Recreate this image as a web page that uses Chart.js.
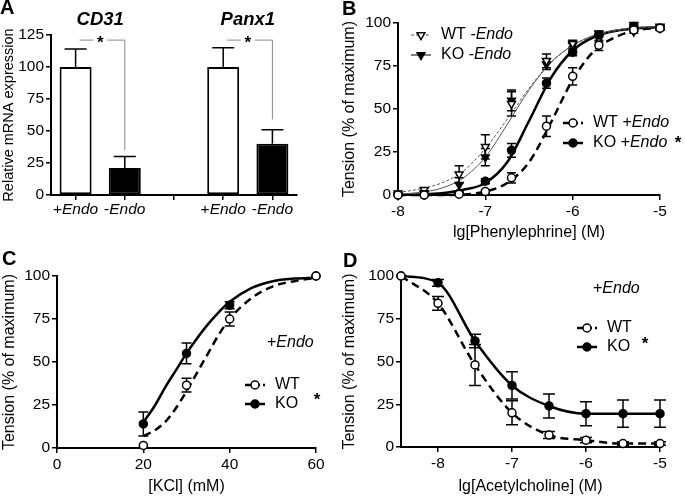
<!DOCTYPE html>
<html>
<head>
<meta charset="utf-8">
<script src="https://cdn.jsdelivr.net/npm/chart.js@4.4.1/dist/chart.umd.min.js"></script>
<style>
  body { margin: 0; background: #fff; }
  #wrap { position: relative; width: 685px; height: 496px; background: #fff; overflow: hidden; }
  canvas { position: absolute; }
</style>
</head>
<body>
<div id="wrap">
  <canvas id="cA" width="340" height="240" style="left:0;top:0;width:340px;height:240px"></canvas>
  <canvas id="cB" width="345" height="245" style="left:340px;top:0;width:345px;height:245px"></canvas>
  <canvas id="cC" width="340" height="256" style="left:0;top:240px;width:340px;height:256px"></canvas>
  <canvas id="cD" width="345" height="256" style="left:340px;top:240px;width:345px;height:256px"></canvas>
</div>
<script>
var FONT = 'Arial, "Liberation Sans", Helvetica, sans-serif';
Chart.defaults.font.family = FONT;
Chart.defaults.color = '#000';

// ---- A: relative mRNA expression
var aCategories = ['+Endo', '-Endo', '', '+Endo', '-Endo'];
var aValues = [100, 21, null, 100, 40];
var aErrors = [14, 9, 0, 15, 11];
var aGenes = ['CD31', 'Panx1'];
var aTicks = [0, 25, 50, 75, 100, 125];
var aBrackets = [[0, 1, 121, 35], [3, 4, 121, 59]]; // from, to, top, drop (data units)

// ---- B: phenylephrine
var bDoses = [-8, -7.7, -7.3, -7, -6.7, -6.3, -6, -5.7, -5.3, -5];
var bWtMinus = [1, 3, 12, 28, 53, 78, 88, 91, 95, 98];
var bWtMinusErr = [0, 1, 5, 7, 7, 4, 2, 2, 1, 1];
var bKoMinus = [0, 1, 6, 22, 55, 76, 87, 94, 99, 97];
var bKoMinusErr = [0, 1, 4, 5, 6, 3, 2, 1, 1, 1];
var bWtPlus = [0, 0, 0.5, 2, 10, 40, 69, 87, 96, 97];
var bWtPlusErr = [0, 0, 0, 1, 3, 6, 5, 3, 1, 1];
var bKoPlus = [0, 0, 1, 8, 26, 65, 83, 93, 98, 97];
var bKoPlusErr = [0, 0, 0.5, 1.5, 4, 3, 2, 1, 1, 1];
var bCurveX = [-8, -7.75, -7.5, -7.25, -7, -6.75, -6.5, -6.25, -6, -5.75, -5.5, -5.25, -5];
var bWtMinusFit = [1.5, 3.5, 7, 14, 27, 44, 62, 77, 87, 92.5, 95.5, 97, 98];
var bKoMinusFit = [0.5, 1.5, 4, 10, 22, 41, 61, 77, 87, 93, 96, 97.5, 98];
var bWtPlusFit = [0, 0, 0, 0.3, 2, 7, 19, 42, 67, 84, 92, 96, 97];
var bKoPlusFit = [0, 0.3, 1, 3, 7, 19, 43, 68, 84, 92, 95.5, 97, 97.5];
var bTicks = [-8, -7, -6, -5];

// ---- C: KCl
var cDoses = [20, 30, 40, 60];
var cWt = [1.5, 36.5, 75, 100];
var cWtErr = [0, 4, 4, 0];
var cKo = [14, 55, 83, 100];
var cKoErr = [7, 6, 2, 0];
var cCurveX = [20, 22.5, 25, 27.5, 30, 32.5, 35, 37.5, 40, 45, 50, 55, 60];
var cWtFit = [7, 10, 15, 23, 33, 44, 55, 66, 75, 87, 94, 97, 99];
var cKoFit = [15, 24, 35, 45, 55, 64, 72, 79, 85, 93, 97, 98.5, 99];
var cTicks = [0, 20, 40, 60];

// ---- D: acetylcholine
var dDoses = [-8.5, -8, -7.5, -7, -6.5, -6, -5.5, -5];
var dWt = [100, 84, 48, 20, 7, 4, 2, 2];
var dWtErr = [0, 4, 12, 7, 2, 1.5, 1, 1];
var dKo = [100, 96, 62, 36, 24, 19.5, 19.5, 19.5];
var dKoErr = [0, 2, 4, 8, 7, 7, 8, 8];
var dTicks = [-8, -7, -6, -5];

var tensionTicks = [0, 25, 50, 75, 100];

function xy(xs, ys) {
  return xs.map(function (x, i) { return { x: x, y: ys[i] }; });
}

function font(style, size) {
  return (style ? style + ' ' : '') + size + 'px ' + FONT;
}

// draws a line of text made of differently styled parts, centred vertically on y
function rich(ctx, parts, x, y, align) {
  ctx.save();
  ctx.textBaseline = 'middle';
  ctx.textAlign = 'left';
  ctx.fillStyle = '#000';
  var total = 0;
  parts.forEach(function (p) { ctx.font = font(p[1], p[2]); total += ctx.measureText(p[0]).width; });
  var cx = align === 'center' ? x - total / 2 : x;
  parts.forEach(function (p) {
    ctx.font = font(p[1], p[2]);
    ctx.fillText(p[0], cx, y);
    cx += ctx.measureText(p[0]).width;
  });
  ctx.restore();
}

var errorBars = {
  id: 'errorBars',
  beforeDatasetsDraw: function (chart) {
    var ctx = chart.ctx, ys = chart.scales.y;
    chart.data.datasets.forEach(function (ds, di) {
      if (!ds.err) return;
      var meta = chart.getDatasetMeta(di);
      ctx.save();
      ctx.strokeStyle = '#000';
      ctx.lineWidth = 1.5;
      meta.data.forEach(function (el, i) {
        var e = ds.err[i];
        if (!e) return;
        var v = typeof ds.data[i] === 'object' ? ds.data[i].y : ds.data[i];
        var top = ys.getPixelForValue(v + e);
        var bot = ds.upOnly ? el.y : ys.getPixelForValue(v - e);
        var h = ds.capW / 2;
        ctx.beginPath();
        ctx.moveTo(el.x, top); ctx.lineTo(el.x, bot);
        ctx.moveTo(el.x - h, top); ctx.lineTo(el.x + h, top);
        if (!ds.upOnly) { ctx.moveTo(el.x - h, bot); ctx.lineTo(el.x + h, bot); }
        ctx.stroke();
      });
      ctx.restore();
    });
  }
};

// legend keys + free text for a panel
function notes(spec) {
  return {
    id: 'notes',
    afterDraw: function (chart) {
      var ctx = chart.ctx;
      (spec.keys || []).forEach(function (k) {
        ctx.save();
        ctx.strokeStyle = k.color || '#000';
        ctx.lineWidth = k.lw;
        ctx.setLineDash(k.dash || []);
        ctx.beginPath();
        ctx.moveTo(k.x - 10, k.y); ctx.lineTo(k.x + 10, k.y);
        ctx.stroke();
        ctx.setLineDash([]);
        ctx.strokeStyle = '#000';
        ctx.fillStyle = k.fill;
        ctx.lineWidth = 1.5;
        Chart.helpers.drawPoint(ctx, { pointStyle: k.style, rotation: k.rot || 0, radius: k.r, borderWidth: 1.5 }, k.x, k.y);
        ctx.restore();
        rich(ctx, k.label, k.x + 20, k.y, 'left');
      });
      (spec.texts || []).forEach(function (t) { rich(ctx, t[0], t[1], t[2], t[3]); });
      if (spec.extra) spec.extra(chart);
    }
  };
}

function yAxis(width, titleText, ticks, max, tsize) {
  return {
    min: 0, max: max,
    afterFit: function (s) { s.width = width; },
    afterBuildTicks: function (s) { s.ticks = ticks.map(function (v) { return { value: v }; }); },
    grid: { drawOnChartArea: false, tickLength: 5, color: '#000', lineWidth: 1.5 },
    border: { color: '#000', width: 2 },
    ticks: { font: { size: 15.5 }, padding: 2 },
    title: { display: true, text: titleText, font: { size: tsize }, padding: { top: 0, bottom: 0 } }
  };
}

function xAxis(height, titleText, ticks, min, max, tpad) {
  return {
    type: 'linear', min: min, max: max,
    afterFit: function (s) { s.height = height; },
    afterBuildTicks: function (s) { s.ticks = ticks.map(function (v) { return { value: v }; }); },
    grid: { drawOnChartArea: false, tickLength: 5, color: '#000', lineWidth: 1.5 },
    border: { color: '#000', width: 2 },
    ticks: { font: { size: 15.5 }, padding: 2 },
    title: { display: true, text: titleText, font: { size: 16 }, padding: { top: 0, bottom: tpad } }
  };
}

function points(data, err, style, fill, r, cap) {
  return {
    type: 'scatter', data: data, err: err, capW: cap, showLine: false,
    pointStyle: style, rotation: style === 'triangle' ? 180 : 0, pointRadius: r, pointHoverRadius: r,
    pointBackgroundColor: fill, pointBorderColor: '#000', pointBorderWidth: 1.5, clip: false, order: 1
  };
}

function curve(data, lw, dash, color) {
  return {
    type: 'line', data: data, borderColor: color, borderWidth: lw, borderDash: dash,
    pointRadius: 0, cubicInterpolationMode: 'monotone', fill: false, clip: false, order: 2
  };
}

var base = { responsive: false, animation: false, devicePixelRatio: 1,
  plugins: { legend: { display: false }, tooltip: { enabled: false } } };

function opts(extra) { return Object.assign({}, base, extra); }

// ===== A =====
new Chart(document.getElementById('cA'), {
  type: 'bar',
  data: {
    labels: aCategories,
    datasets: [{
      data: aValues, err: aErrors, capW: 22, upOnly: true,
      backgroundColor: ['#fff', '#000', '#fff', '#fff', '#000'],
      borderColor: '#000', borderWidth: 2, borderSkipped: false,
      barPercentage: 0.65, categoryPercentage: 1
    }]
  },
  options: opts({
    layout: { padding: { left: 0, top: 35, right: 43, bottom: 0 } },
    scales: {
      x: {
        type: 'category', offset: true,
        afterFit: function (s) { s.height = 45; },
        grid: { offset: false, drawOnChartArea: false, tickLength: 5, color: '#000', lineWidth: 1.5 },
        border: { color: '#000', width: 2 },
        ticks: { display: false }
      },
      y: yAxis(51, 'Relative mRNA expression', aTicks, 125, 14.5)
    }
  }),
  plugins: [errorBars, notes({
    texts: [[[['A', 'bold', 20]], 0, 8, 'left']],
    extra: function (chart) {
      var ctx = chart.ctx, xs = chart.scales.x, ys = chart.scales.y;
      var bottom = chart.chartArea.bottom;
      aCategories.forEach(function (c, i) {
        if (!c) return;
        rich(ctx, [[c.charAt(0), '', 15.5], [c.slice(1), 'italic', 15.5]], xs.getPixelForValue(i), bottom + 15, 'center');
      });
      aBrackets.forEach(function (b, gi) {
        var x0 = xs.getPixelForValue(b[0]) + 4, x1 = xs.getPixelForValue(b[1]);
        var yt = ys.getPixelForValue(b[2]), yb = ys.getPixelForValue(b[3]);
        var mid = (xs.getPixelForValue(b[0]) + x1) / 2;
        ctx.save();
        ctx.strokeStyle = '#888';
        ctx.lineWidth = 1;
        ctx.beginPath();
        ctx.moveTo(x0, yt); ctx.lineTo(mid - 7, yt);
        ctx.moveTo(mid + 7, yt); ctx.lineTo(x1, yt); ctx.lineTo(x1, yb);
        ctx.stroke();
        ctx.restore();
        rich(ctx, [['*', 'bold', 17]], mid, yt + 3, 'center');
        rich(ctx, [[aGenes[gi], 'bold italic', 18.5]], mid, 20, 'center');
      });
    }
  })]
});

// ===== B =====
new Chart(document.getElementById('cB'), {
  type: 'scatter',
  data: {
    datasets: [
      points(xy(bDoses, bWtPlus), bWtPlusErr, 'circle', '#fff', 4, 9),
      points(xy(bDoses, bKoPlus), bKoPlusErr, 'circle', '#000', 4, 9),
      points(xy(bDoses, bWtMinus), bWtMinusErr, 'triangle', '#fff', 4.5, 9),
      points(xy(bDoses, bKoMinus), bKoMinusErr, 'triangle', '#000', 4.5, 9),
      curve(xy(bCurveX, bWtMinusFit), 1, [3, 2], '#555'),
      curve(xy(bCurveX, bKoMinusFit), 1, [], '#555'),
      curve(xy(bCurveX, bKoPlusFit), 2.5, [], '#000'),
      curve(xy(bCurveX, bWtPlusFit), 2.5, [8, 5], '#000')
    ]
  },
  options: opts({
    layout: { padding: { left: 0, top: 23, right: 25, bottom: 0 } },
    scales: {
      x: xAxis(50, 'lg[Phenylephrine] (M)', bTicks, -8, -5, 3),
      y: yAxis(58, 'Tension (% of maximum)', tensionTicks, 100, 16)
    }
  }),
  plugins: [errorBars, notes({
    keys: [
      { x: 81, y: 35, lw: 1, dash: [3, 2], color: '#555', style: 'triangle', rot: 180, r: 4.5, fill: '#fff',
        label: [['WT ', '', 16], ['-Endo', 'italic', 16]] },
      { x: 81, y: 55, lw: 1, color: '#000', style: 'triangle', rot: 180, r: 4.5, fill: '#000',
        label: [['KO ', '', 16], ['-Endo', 'italic', 16]] },
      { x: 233, y: 123, lw: 2.5, dash: [6, 3], style: 'circle', r: 4, fill: '#fff',
        label: [['WT ', '', 16], ['+Endo', 'italic', 16]] },
      { x: 233, y: 143, lw: 2.5, style: 'circle', r: 4, fill: '#000',
        label: [['KO ', '', 16], ['+Endo', 'italic', 16]] }
    ],
    texts: [
      [[['B', 'bold', 20]], 2, 9, 'left'],
      [[['*', 'bold', 17]], 338, 143, 'center']
    ]
  })]
});

// ===== C =====
new Chart(document.getElementById('cC'), {
  type: 'scatter',
  data: {
    datasets: [
      points(xy(cDoses, cWt), cWtErr, 'circle', '#fff', 4, 10),
      points(xy(cDoses, cKo), cKoErr, 'circle', '#000', 4, 10),
      curve(xy(cCurveX, cKoFit), 2.5, [], '#000'),
      curve(xy(cCurveX, cWtFit), 2.5, [8, 5], '#000')
    ]
  },
  options: opts({
    layout: { padding: { left: 0, top: 36, right: 24, bottom: 0 } },
    scales: {
      x: xAxis(48, '[KCl] (mM)', cTicks, 0, 60, 0),
      y: yAxis(57, 'Tension (% of maximum)', tensionTicks, 100, 16)
    }
  }),
  plugins: [errorBars, notes({
    keys: [
      { x: 255, y: 145, lw: 2.5, dash: [6, 3], style: 'circle', r: 4, fill: '#fff', label: [['WT', '', 16]] },
      { x: 255, y: 164, lw: 2.5, style: 'circle', r: 4, fill: '#000', label: [['KO', '', 16]] }
    ],
    texts: [
      [[['C', 'bold', 20]], 2, 19, 'left'],
      [[['+', '', 16], ['Endo', 'italic', 16]], 267, 103, 'left'],
      [[['*', 'bold', 17]], 317, 160, 'center']
    ]
  })]
});

// ===== D =====
new Chart(document.getElementById('cD'), {
  type: 'scatter',
  data: {
    datasets: [
      Object.assign(points(xy(dDoses, dWt), dWtErr, 'circle', '#fff', 4, 12),
        { showLine: true, borderColor: '#000', borderWidth: 2.5, borderDash: [8, 5], cubicInterpolationMode: 'monotone' }),
      Object.assign(points(xy(dDoses, dKo), dKoErr, 'circle', '#000', 4, 12),
        { showLine: true, borderColor: '#000', borderWidth: 2.5, cubicInterpolationMode: 'monotone' })
    ]
  },
  options: opts({
    layout: { padding: { left: 0, top: 36, right: 25, bottom: 0 } },
    scales: {
      x: xAxis(49, 'lg[Acetylcholine] (M)', dTicks, -8.5, -5, 0),
      y: yAxis(61, 'Tension (% of maximum)', tensionTicks, 100, 16)
    }
  }),
  plugins: [errorBars, notes({
    keys: [
      { x: 247, y: 88, lw: 2.5, dash: [6, 3], style: 'circle', r: 4, fill: '#fff', label: [['WT', '', 16]] },
      { x: 247, y: 107, lw: 2.5, style: 'circle', r: 4, fill: '#000', label: [['KO', '', 16]] }
    ],
    texts: [
      [[['D', 'bold', 20]], 3, 21, 'left'],
      [[['+', '', 16], ['Endo', 'italic', 16]], 253, 49, 'left'],
      [[['*', 'bold', 17]], 305, 104, 'center']
    ]
  })]
});
</script>
</body>
</html>
